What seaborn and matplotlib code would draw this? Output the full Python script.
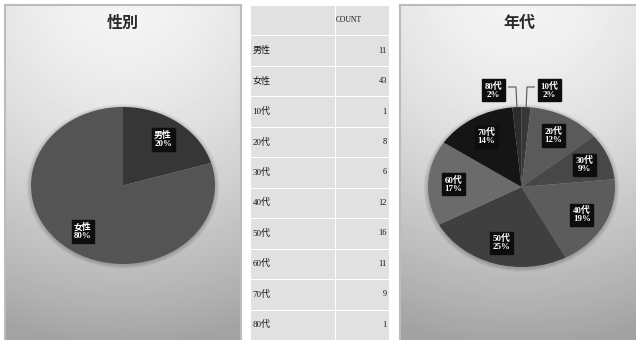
import numpy as np
import matplotlib
matplotlib.use("Agg")
import matplotlib.pyplot as plt
from matplotlib.colors import ListedColormap
from matplotlib.patches import Ellipse
import seaborn as sns

sns.set_style("white")
plt.rcParams["font.family"] = ["Noto Sans CJK JP", "DejaVu Sans"]

# ---- data ----
gender_labels = ["男性", "女性"]
gender_counts = [11, 43]
age_labels = ["10代", "20代", "30代", "40代", "50代", "60代", "70代", "80代"]
age_counts = [1, 8, 6, 12, 16, 11, 9, 1]
table_header = "COUNT"

gender_colors = ["#363636", "#545454"]
age_colors = ["#383838", "#5a5a5a", "#474747", "#5c5c5c",
              "#3f3f3f", "#6b6b6b", "#151515", "#2c2c2c"]

W, H = 636, 340
fig = plt.figure(figsize=(W / 100, H / 100), dpi=100)
fig.patch.set_facecolor("white")


def px(x0, y0, x1, y1):
    return [x0 / W, 1 - y1 / H, (x1 - x0) / W, (y1 - y0) / H]


def panel(box, title, left_border=True, right_border=True):
    ax = fig.add_axes(px(*box))
    w, h = box[2] - box[0], box[3] - box[1]
    yy, xx = np.mgrid[0:h, 0:w]
    d = np.sqrt((xx - w / 2) ** 2 + (yy + 0.05 * h) ** 2) / h
    v = np.clip(0.96 - 0.29 * d ** 1.6, 0.64, 1)
    ax.imshow(v, cmap="gray", vmin=0, vmax=1, aspect="auto",
              extent=[0, 1, 0, 1], interpolation="bilinear")
    ax.set_xlim(0, 1)
    ax.set_ylim(0, 1)
    ax.set_xticks([])
    ax.set_yticks([])
    for name, sp in ax.spines.items():
        sp.set_color("#bcbcbc")
        sp.set_linewidth(1.5)
    ax.spines["bottom"].set_visible(False)
    ax.spines["left"].set_visible(left_border)
    ax.spines["right"].set_visible(right_border)
    ax.text(0.5, 1 - 18 / h, title, ha="center", va="center",
            fontsize=11.5, fontweight="bold", color="#2a2a2a",
            transform=ax.transAxes)
    return ax


def pie(box, counts, labels, colors, outside=()):
    ax = fig.add_axes(px(*box))
    ax.set_xlim(-1, 1)
    ax.set_ylim(-1, 1)
    ax.axis("off")
    # soft shadow around the disc
    for k in range(6):
        s = 1 + 0.008 * (k + 1)
        ax.add_patch(Ellipse((0, -0.012), 2 * s, 2 * s, color="black",
                             alpha=0.03, lw=0, zorder=0, clip_on=False))
    wedges, _ = ax.pie(counts, colors=colors, startangle=90,
                       counterclock=False, radius=1,
                       wedgeprops=dict(linewidth=0))
    for wdg in wedges:
        wdg.set_clip_on(False)
    ax.set_xlim(-1, 1)
    ax.set_ylim(-1, 1)
    ax.set_aspect("auto")
    total = sum(counts)
    bw = 15 / (box[2] - box[0]) * 2  # half box width in data units
    for wdg, lab, c in zip(wedges, labels, counts):
        ang = np.deg2rad((wdg.theta1 + wdg.theta2) / 2)
        pct = round(100 * c / total)
        txt = f"{lab}\n{pct}%"
        if lab in outside:
            side = np.sign(np.cos(ang))
            lx, ly = 0.3 * side, 1.21
            ex, ey = np.cos(ang), np.sin(ang)
            ax.plot([lx - side * bw, ex + side * 0.01, ex],
                    [ly + 0.04, ly + 0.04, ey], color="#555555", lw=0.8,
                    clip_on=False, zorder=3)
        else:
            r = 0.73
            lx, ly = r * np.cos(ang), r * np.sin(ang)
        ax.text(lx, ly, txt, ha="center", va="center", fontsize=6.4,
                fontweight="bold", color="white", linespacing=1.0,
                family=["Liberation Serif", "Noto Sans CJK JP"],
                bbox=dict(boxstyle="square,pad=0.28", fc="#0d0d0d",
                          ec="#0d0d0d"), zorder=4, clip_on=False)
    return ax


# left panel: gender
panel((5, 5, 241, 340), "性別")
pie((31, 107, 215, 264), gender_counts, gender_labels, gender_colors)

# right panel: age group
panel((400, 5, 638, 340), "年代", right_border=False)
pie((428, 107, 615, 267), age_counts, age_labels, age_colors,
    outside=("10代", "80代"))

# count table
row_labels = [""] + gender_labels + age_labels
row_values = [table_header] + [str(v) for v in gender_counts + age_counts]
n = len(row_labels)
cell_cmap = ListedColormap(["#e1e1e1"])

ax_l = fig.add_axes(px(250, 5, 334.5, 340))
sns.heatmap(np.zeros((n, 1)), cmap=cell_cmap, cbar=False, linewidths=0.6,
            linecolor="white", xticklabels=False, yticklabels=False, ax=ax_l)
ax_v = fig.add_axes(px(334.5, 5, 389, 340))
sns.heatmap(np.zeros((n, 1)), cmap=cell_cmap, cbar=False, linewidths=0.6,
            linecolor="white", xticklabels=False, yticklabels=False, ax=ax_v)

for i, (lab, val) in enumerate(zip(row_labels, row_values)):
    ax_l.text(0.03, i + 0.5, lab, ha="left", va="center", fontsize=6.5,
              color="#151515",
              family=["Liberation Serif", "Noto Sans CJK JP"])
    if i == 0:
        ax_v.text(0.03, i + 0.5, val, ha="left", va="center", fontsize=5.5,
                  color="#151515", family="Liberation Serif")
    else:
        ax_v.text(0.96, i + 0.5, val, ha="right", va="center", fontsize=6,
                  color="#151515", family="Liberation Serif")

fig.savefig("out.png", dpi=100, facecolor="white")
